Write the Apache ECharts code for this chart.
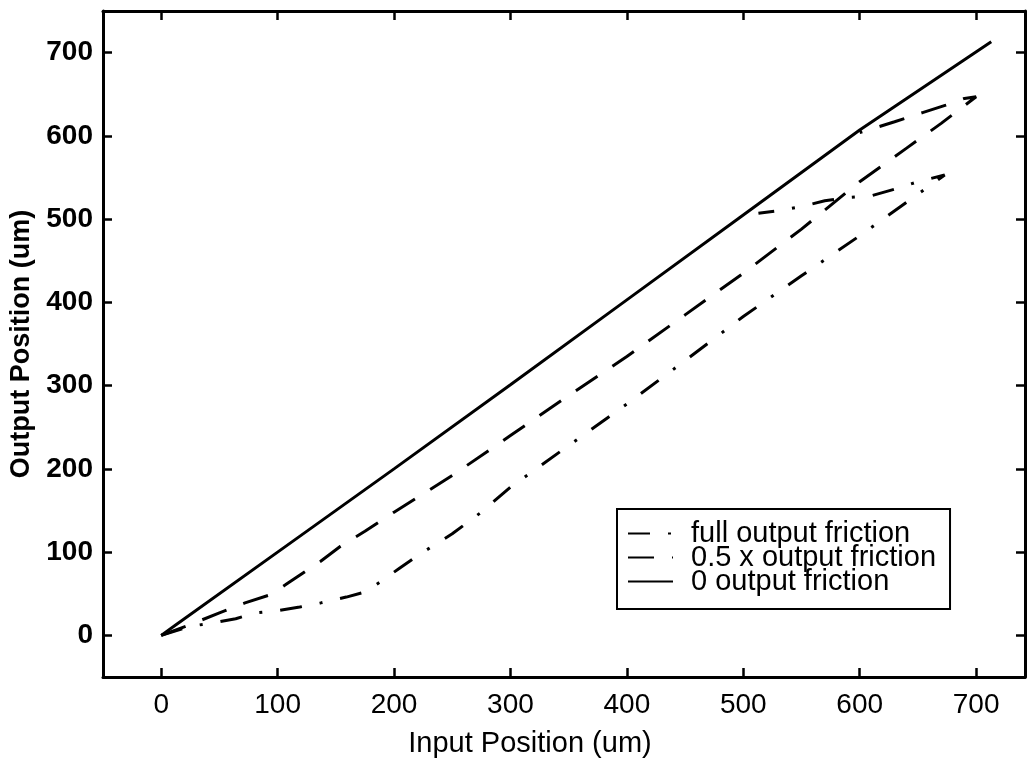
<!DOCTYPE html>
<html>
<head>
<meta charset="utf-8">
<script src="https://cdn.jsdelivr.net/npm/echarts@6/dist/echarts.min.js"></script>
<style>
html,body{margin:0;padding:0;background:#fff;}
#chart{width:1027px;height:759px;}
</style>
</head>
<body>
<div id="chart"></div>
<script>
// ---- data (Input Position um, Output Position um) ----
const xTickValues = [0, 100, 200, 300, 400, 500, 600, 700];
const yTickValues = [0, 100, 200, 300, 400, 500, 600, 700];
const seriesNames = ['full output friction', '0.5 x output friction', '0 output friction'];

// full output friction (dash-dot): forward path, then return branch back to the no-friction line
const fullFriction = [
  [0,0],[25,11],[45,15],[64,20],[81,27],[101,30],[119,34],[137,39],[159,46],[175,52],
  [190,66],[205,81],[225,100],[250,122],[275,148],[300,178],[350,228],[400,278],
  [450,330],[500,383],[550,432],[600,480],[640,520],[673,553],
  [650,545],[630,536],[610,528],[590,526],[570,522],[550,515],[530,510],[513,507]
];
// 0.5 x output friction (dashed): forward path, then return branch
const halfFriction = [
  [0,0],[25,13],[50,27],[72,39],[94,49],[107,61],[124,77],[137,89],[154,107],[175,125],
  [200,148],[250,192],[300,240],[350,288],[400,335],[450,385],[500,435],[550,488],
  [600,545],[640,585],[670,615],[700,647],
  [690,645],[674,637],[654,628],[630,617],[612,609],[600,604]
];
// 0 output friction (solid)
const zeroFriction = [
  [0,0],[13,13],[115,115],[200,200],[300,301],[400,403],[500,505],[600,607],[713,713]
];

const chart = echarts.init(document.getElementById('chart'), null, {renderer:'canvas'});
const axisLine = {show:true, onZero:false, lineStyle:{color:'#000', width:3}};
const FONT = 'Liberation Sans, Arial, Helvetica, sans-serif';

function xAx(pos, showLabel){
  return {
    type:'value', position:pos, min:-50, max:742,
    axisLine:axisLine,
    axisTick:{show:true, inside:true, length:9, customValues:xTickValues, lineStyle:{color:'#000', width:2.5}},
    axisLabel:{show:showLabel, customValues:xTickValues, fontSize:28, color:'#000', fontFamily:FONT, margin:14},
    splitLine:{show:false},
    name: showLabel ? 'Input Position (um)' : '',
    nameLocation:'middle', nameGap:52,
    nameTextStyle:{fontSize:29, color:'#000', fontFamily:FONT, padding:[0,68,0,0]}
  };
}
function yAx(pos, showLabel){
  return {
    type:'value', position:pos, min:-50, max:750,
    axisLine:axisLine,
    axisTick:{show:true, inside:true, length:9, customValues:yTickValues, lineStyle:{color:'#000', width:2.5}},
    axisLabel:{show:showLabel, customValues:yTickValues, fontSize:28, color:'#000', fontFamily:FONT, margin:10, fontWeight:'bold'},
    splitLine:{show:false},
    name: showLabel ? 'Output Position (um)' : '',
    nameLocation:'middle', nameGap:64,
    nameTextStyle:{fontSize:27, color:'#000', fontFamily:FONT, fontWeight:'bold'}
  };
}

function mkSeries(name, data, type){
  return {
    name:name, type:'line', data:data, symbol:'none', xAxisIndex:0, yAxisIndex:0,
    lineStyle:{color:'#000', width:3, type:type}, itemStyle:{color:'#000'},
    animation:false, z:3
  };
}

chart.setOption({
  backgroundColor:'#fff',
  animation:false,
  grid:{left:103, right:2, top:11, bottom:82, containLabel:false, outerBoundsMode:'none'},
  xAxis:[xAx('bottom', true), xAx('top', false)],
  yAxis:[yAx('left', true), yAx('right', false)],
  legend:{
    data:seriesNames, orient:'vertical', left:617, top:509,
    backgroundColor:'#fff', borderColor:'#000', borderWidth:2, borderRadius:0,
    padding:[10,14,13,10], itemGap:-5, itemWidth:45, itemHeight:14,
    itemStyle:{opacity:0},
    textStyle:{fontSize:29, color:'#000', fontFamily:FONT, padding:[0,0,0,13]},
    selectedMode:false
  },
  series:[
    mkSeries(seriesNames[0], fullFriction, [22,18,3,18]),
    mkSeries(seriesNames[1], halfFriction, [26,18]),
    mkSeries(seriesNames[2], zeroFriction, 'solid')
  ]
});
</script>
</body>
</html>
